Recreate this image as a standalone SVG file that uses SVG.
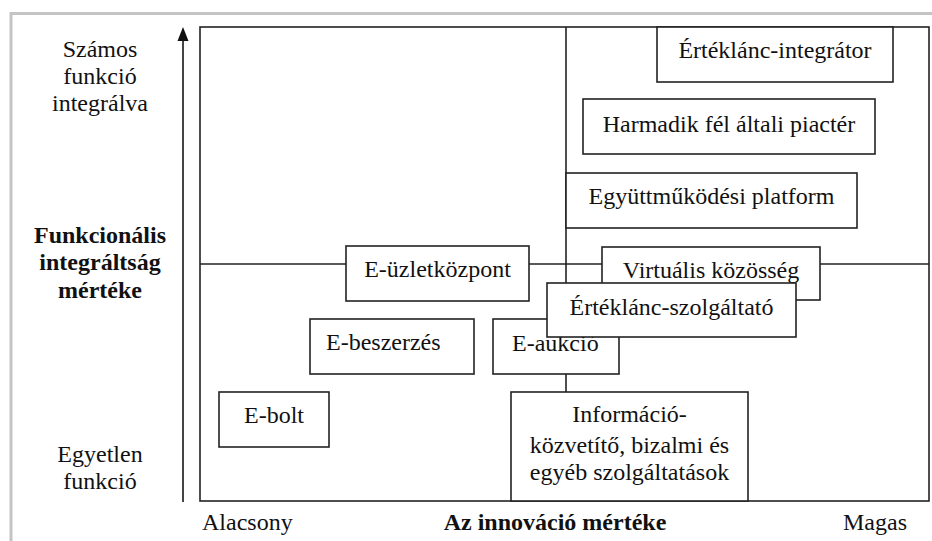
<svg xmlns="http://www.w3.org/2000/svg" width="932" height="541" viewBox="0 0 932 541">
<style>
.bx{fill:#fff;stroke:#222;stroke-width:1.6}
.ln{fill:none;stroke:#222;stroke-width:1.6}
text{font-family:'Liberation Serif','Times New Roman','DejaVu Serif',serif;font-size:24px;fill:#111}
.c{text-anchor:middle}
.b{font-weight:bold}
</style>
<rect width="932" height="541" fill="#fff"/>
<path d="M11,541 V13.5 H932" fill="none" stroke="#c4c4c4" stroke-width="3"/>
<g id="axes">
<line x1="183" y1="502" x2="183" y2="40" stroke="#444" stroke-width="2"/>
<path d="M177.5,41 L183,27 L188.5,41 Z" fill="#111"/>
</g>
<g id="connectors">
<rect class="ln" x="200" y="27" width="729" height="474"/>
<line class="ln" x1="566" y1="27" x2="566" y2="392"/>
<line class="ln" x1="200" y1="264" x2="929" y2="264"/>
</g>
<g id="labels" font-family="Liberation Serif, serif">
<text class="c" x="100" y="57">Számos</text>
<text class="c" x="100" y="84">funkció</text>
<text class="c" x="100" y="111">integrálva</text>
<text class="c b" x="100" y="243">Funkcionális</text>
<text class="c b" x="100" y="270">integráltság</text>
<text class="c b" x="100" y="298">mértéke</text>
<text class="c" x="100" y="462">Egyetlen</text>
<text class="c" x="100" y="489">funkció</text>
<text x="202" y="530">Alacsony</text>
<text class="c b" x="555" y="530">Az innováció mértéke</text>
<text x="843" y="530">Magas</text>
</g>
<g id="n-integrator">
<rect class="bx" x="657" y="27" width="236" height="55"/>
<text class="c" x="775" y="58">Értéklánc-integrátor</text>
</g>
<g id="n-piacter">
<rect class="bx" x="583" y="99" width="292" height="55"/>
<text class="c" x="729" y="132">Harmadik fél általi piactér</text>
</g>
<g id="n-platform">
<rect class="bx" x="566" y="173" width="291" height="55"/>
<text class="c" x="711.5" y="204">Együttműködési platform</text>
</g>
<g id="n-kozosseg">
<rect class="bx" x="602" y="247" width="218" height="53"/>
<text class="c" x="711" y="278">Virtuális közösség</text>
</g>
<g id="n-uzletkozpont">
<rect class="bx" x="346" y="246" width="183" height="55"/>
<text class="c" x="437.5" y="277">E-üzletközpont</text>
</g>
<g id="n-beszerzes">
<rect class="bx" x="310" y="319" width="164" height="55"/>
<text x="326" y="350">E-beszerzés</text>
</g>
<g id="n-aukcio">
<rect class="bx" x="493" y="319" width="126" height="55"/>
<text x="512" y="351">E-aukció</text>
</g>
<g id="n-szolgaltato">
<rect class="bx" x="547" y="283" width="249" height="54"/>
<text class="c" x="671.5" y="315">Értéklánc-szolgáltató</text>
</g>
<g id="n-ebolt">
<rect class="bx" x="219" y="392" width="110" height="55"/>
<text class="c" x="274" y="423">E-bolt</text>
</g>
<g id="n-informacio">
<rect class="bx" x="511" y="392" width="237" height="109"/>
<text class="c" x="629.5" y="422">Információ-</text>
<text class="c" x="629.5" y="453">közvetítő, bizalmi és</text>
<text class="c" x="629.5" y="480">egyéb szolgáltatások</text>
</g>
</svg>
